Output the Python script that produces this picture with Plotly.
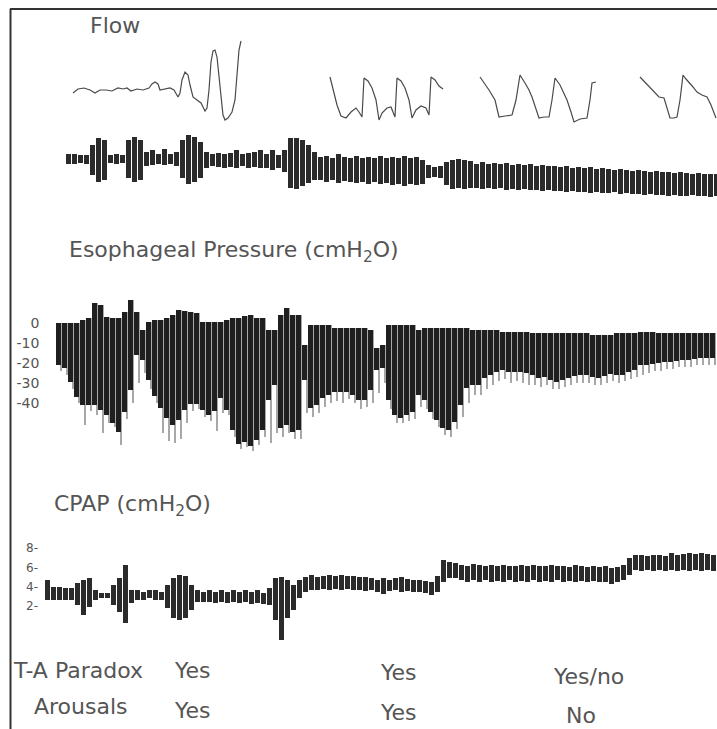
import numpy as np
import plotly.graph_objects as go

W, H = 717, 729

# ---------------- data ----------------
# Flow (airflow) trace segments, arbitrary units; time in s (x)
flow_t = [73,78,84,90,95,100,106,112,118,123,127,131,137,143,149,152,155,158,160,164,170,174,178,180,182,185,188,190,193,197,201,205,207,209,211,213,215,217,219,221,223,225,228,232,235,237,239,241,None,
          330,333,337,341,346,351,356,359,362,364,368,372,376,379,382,387,391,395,397,401,405,409,412,416,421,426,429,431,435,439,443,None,
          480,485,489,495,499,505,512,516,520,525,529,532,536,539,544,549,552,555,560,564,567,571,574,580,587,590,592,596,None,
          640,645,650,655,659,664,667,670,674,677,680,683,686,689,693,697,702,707,711,716]
flow_v = [7,11,12,10,7,10,10,9,12,11,12,9,11,10,12,16,18,16,10,11,12,10,3,7,20,28,25,15,3,0,-3,-11,-8,10,38,49,50,43,25,2,-15,-20,-18,-12,0,25,50,59,None,
          23,12,-5,-16,-18,-12,-8,-12,-17,22,19,12,0,-20,-13,-8,-7,-17,22,19,12,0,-18,-10,-6,-8,-15,23,20,14,11,None,
          23,16,10,0,-17,-16,-15,0,25,17,10,3,-8,-18,-17,-17,0,22,15,7,0,-12,-22,-19,-18,0,17,18,None,
          23,18,13,7,3,2,-8,-18,-18,-17,0,25,21,18,13,8,5,3,-5,-18]

# Effort / snore band under the flow trace (arbitrary units), sampled every 6 s from t=68
band_t0, band_dt = 68, 6
band_hi = [6,6,5,5,15,22,20,5,6,5,
           20,23,20,8,10,6,11,6,8,20,
           25,23,18,8,6,7,6,7,10,6,
           7,8,10,6,10,5,10,22,22,20,
           15,8,3,4,2,6,3,2,4,2,
           3,2,4,2,3,2,4,2,3,0,
           -5,-7,-6,-2,0,1,0,-1,-4,-2,
           -4,-3,-4,-3,-5,-4,-5,-4,-6,-5,
           -6,-6,-7,-6,-8,-7,-8,-7,-9,-8,
           -9,-10,-9,-10,-11,-10,-11,-12,-11,-12,
           -12,-13,-12,-13,-14,-13,-14,-14,-14]
band_lo = [-4,-4,-3,-4,-15,-22,-20,-3,-4,-3,
           -18,-22,-20,-6,-5,-4,-5,-4,-6,-18,
           -24,-22,-18,-8,-6,-7,-8,-7,-8,-6,
           -8,-7,-8,-8,-10,-8,-12,-28,-29,-26,
           -23,-20,-20,-22,-20,-23,-21,-22,-23,-22,
           -24,-22,-24,-23,-25,-24,-26,-24,-25,-24,
           -18,-17,-18,-25,-29,-28,-29,-28,-28,-29,
           -28,-29,-28,-30,-29,-30,-29,-30,-30,-31,
           -30,-31,-31,-32,-31,-32,-32,-33,-32,-33,
           -33,-32,-34,-33,-34,-34,-35,-34,-35,-35,
           -36,-35,-36,-36,-35,-36,-36,-37,-36]

# Esophageal pressure swings (cmH2O), every 6 s from t=58:
# end-expiratory (top), inspiratory (bottom of the dense swing) and deepest single swing (nadir)
eso_t0, eso_dt = 58, 6
eso_top = [0,0,0,0,1.5,2.5,10,9,3,2.5,
           2.5,5.5,11.5,5.5,-3.5,0.5,1.5,1.5,2.5,4,
           6.5,6,5.5,5,0.5,0.5,0.5,0.5,1.5,2.5,
           2.5,3.5,4,2.5,2.5,-3.5,-3.5,4,7.5,4,
           4,-11,-1,-1,-1,-1,-2.5,-2.5,-2.5,-2.5,
           -2.5,-2.5,-3.5,-12.5,-11,-1,-1,-1,-1,-1,
           -3.5,-2.5,-2.5,-2.5,-2.5,-2.5,-2.5,-2.5,-2.5,-3.5,
           -3.5,-3.5,-3.5,-3.5,-4.5,-4.5,-4.5,-4.5,-4.5,-5,
           -5,-5,-5,-5,-5,-5,-5,-5,-5,-6,
           -6,-6,-6,-5,-5,-5,-5,-4.5,-4.5,-4.5,
           -5,-5,-5,-5,-5,-5,-5,-5,-5,-5]
eso_bot = [-21,-22.5,-29.5,-37,-41,-41,-41,-43.5,-46,-50,
           -54.5,-44.5,-33.5,-16,-18.5,-28.5,-36.5,-42.5,-47.5,-51,
           -48.5,-43.5,-40.5,-40.5,-43.5,-46,-44,-37.5,-43.5,-53.5,
           -60.5,-59.5,-61.5,-58.5,-53.5,-38.5,-31,-52.5,-51,-54.5,
           -53.5,-28.5,-42.5,-41,-37.5,-36,-34.5,-34.5,-34.5,-36,
           -38.5,-38.5,-33.5,-23.5,-22.5,-38.5,-46,-47.5,-46,-44.5,
           -36,-38.5,-44.5,-48.5,-52.5,-53.5,-49.5,-41,-32.5,-31,
           -31,-27.5,-26,-24.5,-23.5,-24.5,-24.5,-24.5,-25,-26,
           -27.5,-27,-28.5,-29.5,-28.5,-27.5,-26.5,-26,-26,-27,
           -27.5,-26.5,-25.5,-26,-26,-24.5,-23.5,-21,-21,-20.5,
           -20,-19.5,-19.5,-19,-18.5,-18.5,-18,-17.5,-17.5,-17.5]
eso_nadir = [-24,-26,-33,-40,-51,-44,-46,-55,-50,-52,
             -61,-48,-40,-30,-25,-33,-40,-55,-59,-60,
             -58,-50,-44,-43,-47,-49,-54,-45,-46,-57,
             -63,-62,-64,-61,-57,-60,-55,-57,-55,-58,
             -58,-45,-47,-45,-42,-40,-39,-40,-38,-40,
             -43,-42,-40,-35,-30,-43,-50,-50,-49,-48,
             -42,-43,-48,-52,-56,-57,-53,-47,-40,-36,
             -36,-33,-31,-29,-28,-30,-29,-30,-31,-31,
             -32,-31,-33,-33,-32,-31,-30,-30,-30,-31,
             -31,-30,-29,-30,-29,-28,-27,-26,-25,-24,
             -24,-23,-23,-22,-22,-22,-21,-21,-21,-21]
eso_ticks = [0, -10, -20, -30, -40]

# CPAP (cmH2O), every 6 s from t=47: low / high excursions
cpap_t0, cpap_dt = 47, 6
cpap_lo = [2.6,2.6,2.6,2.6,2.6,2.1,1.1,1.9,2.6,2.8,
           2.8,2.1,1.4,0.2,2.3,2.6,2.6,2.8,2.6,2.6,
           1.8,0.8,0.6,0.8,1.6,2.4,2.4,2.4,2.3,2.4,
           2.3,2.4,2.3,2.4,2.2,2.3,2.2,2.1,0.6,-1.5,
           0.8,1.6,2.8,3.4,3.7,3.7,3.8,3.7,3.8,3.7,
           3.8,3.7,3.7,3.6,3.7,3.4,3.2,3.6,3.7,3.4,
           3.6,3.4,3.4,3.3,3.1,3.4,4.5,4.9,4.9,4.7,
           4.5,4.7,4.5,4.7,4.5,4.6,4.5,4.7,4.5,4.6,
           4.5,4.7,4.5,4.6,4.5,4.7,4.5,4.6,4.5,4.6,
           4.5,4.6,4.5,4.5,4.3,4.5,4.7,5.2,5.7,5.6,
           5.7,5.6,5.7,5.6,5.7,5.6,5.7,5.6,5.7,5.6,
           5.7,5.6]
cpap_hi = [4.7,4.0,4.0,3.9,3.9,4.4,4.7,4.9,3.7,3.3,
           3.3,4.2,4.9,6.2,3.7,3.7,3.4,3.7,3.7,3.4,
           4.2,4.9,5.2,5.1,4.2,3.7,3.4,3.7,3.4,3.7,
           3.4,3.7,3.4,3.7,3.4,3.7,3.3,3.9,4.9,5.0,
           4.7,4.2,4.7,5.0,5.2,5.0,5.1,5.2,5.1,5.2,
           5.1,5.1,5.0,5.0,4.9,4.7,4.9,4.7,4.9,5.0,
           4.8,4.7,4.7,4.6,4.5,5.1,6.8,6.6,6.4,6.2,
           6.1,6.3,6.2,6.1,6.2,6.1,6.2,6.1,6.1,6.2,
           6.1,6.2,6.1,6.1,6.2,6.1,6.1,6.0,6.2,6.1,
           6.0,6.1,6.0,6.1,5.9,6.0,6.2,7.0,7.3,7.3,
           7.2,7.3,7.3,7.2,7.5,7.3,7.4,7.5,7.4,7.5,
           7.4,7.3]
cpap_ticks = [2, 4, 6, 8]
cpap_ticktext = ["2-", "4-", "6-", "8-"]

# Rows of annotations under the tracings
row_labels = ["T-A Paradox", "Arousals"]
ta_paradox = ["Yes", "Yes", "Yes/no"]
arousals = ["Yes", "Yes", "No"]

# ---------------- figure ----------------
INK = "#2b2b2b"
TXT = "#555555"
FONT = "DejaVu Sans"

band_t = band_t0 + band_dt * np.arange(len(band_hi))
eso_t = eso_t0 + eso_dt * np.arange(len(eso_top))
cpap_t = cpap_t0 + cpap_dt * np.arange(len(cpap_lo))

fig = go.Figure()

fig.add_trace(go.Scatter(x=flow_t, y=flow_v, mode="lines", yaxis="y",
                         line=dict(color="#4a4a4a", width=1.2), connectgaps=False,
                         hoverinfo="skip", showlegend=False))

fig.add_trace(go.Bar(x=band_t, base=band_lo, y=np.array(band_hi) - np.array(band_lo),
                     width=5, yaxis="y2", marker=dict(color=INK, line=dict(width=0)),
                     showlegend=False, hoverinfo="skip"))

# deepest single swings: light grey strokes below the dense swing
fig.add_trace(go.Bar(x=eso_t + eso_dt / 2, base=eso_nadir, y=np.array(eso_top) - np.array(eso_nadir),
                     width=1.3, yaxis="y3", marker=dict(color="#a8a8a8", line=dict(width=0)),
                     showlegend=False, hoverinfo="skip"))
fig.add_trace(go.Bar(x=eso_t, base=eso_bot, y=np.array(eso_top) - np.array(eso_bot),
                     width=5, yaxis="y3", marker=dict(color="#1f1f1f", line=dict(width=0)),
                     showlegend=False, hoverinfo="skip"))

fig.add_trace(go.Bar(x=cpap_t, base=cpap_lo, y=np.array(cpap_hi) - np.array(cpap_lo),
                     width=5, yaxis="y4", marker=dict(color=INK, line=dict(width=0)),
                     showlegend=False, hoverinfo="skip"))

hidden = dict(visible=False, showgrid=False, zeroline=False, fixedrange=True)
fig.update_layout(
    width=W, height=H,
    margin=dict(l=0, r=0, t=0, b=0),
    paper_bgcolor="white", plot_bgcolor="white",
    barmode="overlay", bargap=0,
    xaxis=dict(range=[0, W], domain=[0, 1], **hidden),
    yaxis=dict(range=[100 - H, 100], domain=[0, 1], **hidden),
    yaxis2=dict(range=[160 - H, 160], overlaying="y", **hidden),
    yaxis3=dict(range=[(323 - H) / 2, 323 / 2], overlaying="y", anchor="free", position=0.055,
                side="left", showgrid=False, zeroline=False, showline=False, ticks="",
                tickvals=eso_ticks, ticktext=[str(v) for v in eso_ticks],
                tickfont=dict(family=FONT, size=14, color=TXT), fixedrange=True),
    yaxis4=dict(range=[2 + (606 - H) / 9.667, 2 + 606 / 9.667], overlaying="y", anchor="free",
                position=0.053, side="left", showgrid=False, zeroline=False, showline=False,
                ticks="", tickvals=cpap_ticks, ticktext=cpap_ticktext,
                tickfont=dict(family=FONT, size=12, color=TXT), fixedrange=True),
)

def py(p):
    return 1 - p / H

def label(text, x, y, size=22):
    fig.add_annotation(text=text, x=x, y=py(y), xref="x", yref="paper",
                       xanchor="left", yanchor="middle", showarrow=False,
                       font=dict(family=FONT, size=size, color=TXT))

label("Flow", 88, 25)
label("Esophageal Pressure (cmH<sub>2</sub>O)", 67, 251)
label("CPAP (cmH<sub>2</sub>O)", 52, 505)
label(row_labels[0], 11, 670)
label(row_labels[1], 32, 706)
for xx, yy, t in zip([172, 378, 551], [670, 672, 676], ta_paradox):
    label(t, xx, yy)
for xx, yy, t in zip([172, 378, 564], [710, 712, 715], arousals):
    label(t, xx, yy)

# frame
fig.add_shape(type="line", xref="x", yref="paper", x0=10, x1=W, y0=py(9), y1=py(9),
              line=dict(color="#333333", width=2))
fig.add_shape(type="line", xref="x", yref="paper", x0=10.5, x1=10.5, y0=py(9), y1=0,
              line=dict(color="#333333", width=2))

fig.write_html("out.html", config={"displayModeBar": False, "staticPlot": True},
               post_script="document.body.style.margin='0';document.body.style.overflow='hidden';")
